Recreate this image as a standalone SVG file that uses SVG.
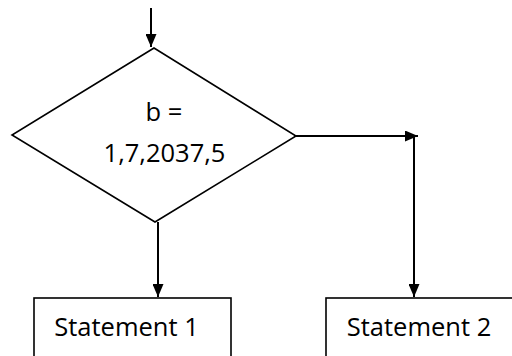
<svg xmlns="http://www.w3.org/2000/svg" width="512" height="356" viewBox="0 0 512 356">
<style>
.s{fill:#fff;stroke:#000;stroke-width:1.6}
.c{fill:none;stroke:#000;stroke-width:2}
.t{font-family:"Open Sans","Liberation Sans",sans-serif;font-size:25.5px;fill:#000}
</style>
<defs>
<marker id="a" viewBox="0 0 13 11" refX="13" refY="5.5" markerWidth="13" markerHeight="11" markerUnits="userSpaceOnUse" orient="auto">
<path d="M0,0 L13,5.5 L0,11 Z" fill="#000"/>
</marker>
</defs>
<g id="decision">
<polygon class="s" points="154,48 12,135 155,222 296,136"/>
<text class="t" x="164" y="121" text-anchor="middle">b =</text>
<text class="t" x="164.5" y="162" text-anchor="middle">1,7,2037,5</text>
</g>
<g id="statement1">
<rect class="s" x="34" y="298" width="197" height="70"/>
<text class="t" x="126.5" y="336" text-anchor="middle">Statement 1</text>
</g>
<g id="statement2">
<rect class="s" x="326" y="298" width="190" height="70"/>
<text class="t" x="419" y="336" text-anchor="middle">Statement 2</text>
</g>
<g id="connectors">
<path class="c" d="M151,8 L151,47" marker-end="url(#a)"/>
<path class="c" d="M158,222 L158,297" marker-end="url(#a)"/>
<path class="c" d="M296,136 L418,136" marker-end="url(#a)"/>
<path class="c" d="M414,136 L414,297" marker-end="url(#a)"/>
</g>
</svg>
